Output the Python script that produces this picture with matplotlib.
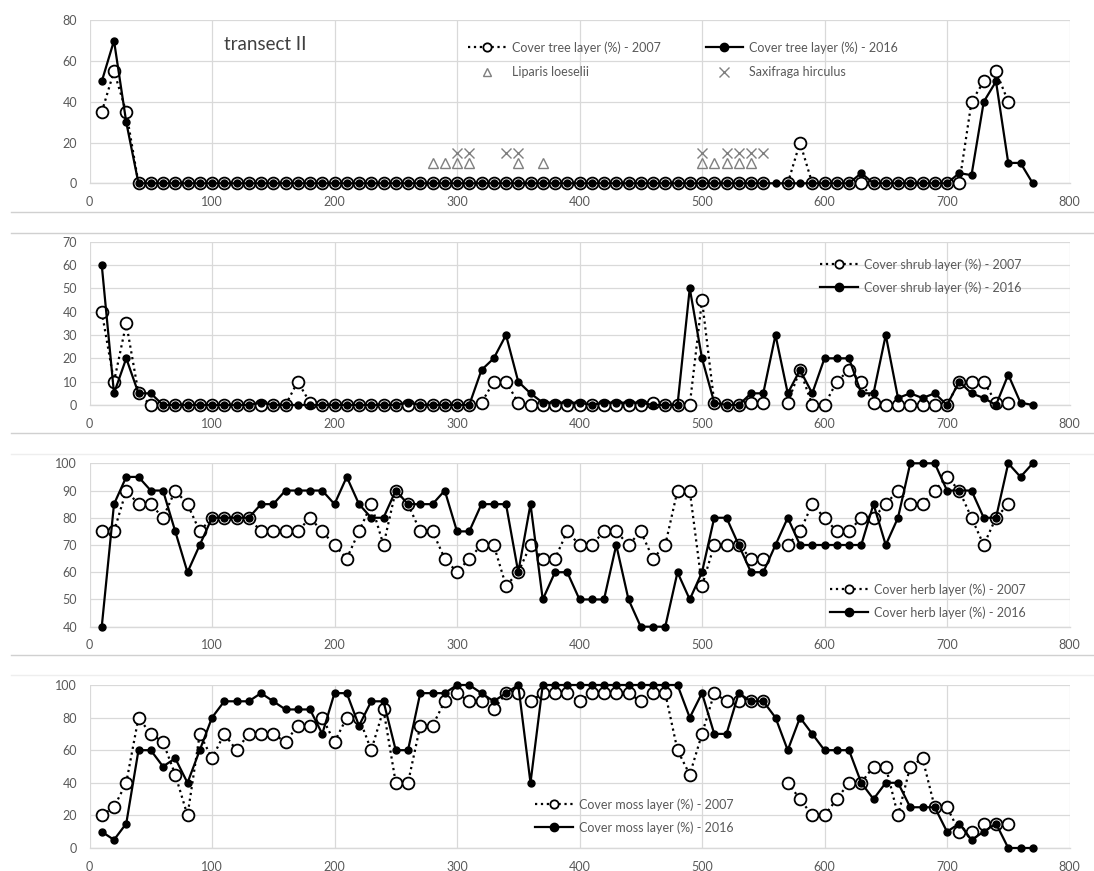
""" Vegetation cover along transect II, 2007 vs 2016
"""
import numpy as np
import matplotlib.pyplot as plt
from matplotlib.lines import Line2D

plt.rcParams['font.family'] = ['Lato', 'DejaVu Sans']

nan = np.nan

# distance along the transect [m]
dist_2016 = np.arange(10, 780, 10)
dist_2007 = np.arange(10, 760, 10)

tree_2007 = [35, 55, 35, 0, 0, 0, 0, 0, 0, 0,
             0, 0, 0, 0, 0, 0, 0, 0, 0, 0,
             0, 0, 0, 0, 0, 0, 0, 0, 0, 0,
             0, 0, 0, 0, 0, 0, 0, 0, 0, 0,
             0, 0, 0, 0, 0, 0, 0, 0, 0, 0,
             0, 0, 0, 0, 0, nan, 0, 20, 0, 0,
             0, 0, 0, 0, 0, 0, 0, 0, 0, 0,
             0, 40, 50, 55, 40]
tree_2016 = [50, 70, 30, 0, 0, 0, 0, 0, 0, 0,
             0, 0, 0, 0, 0, 0, 0, 0, 0, 0,
             0, 0, 0, 0, 0, 0, 0, 0, 0, 0,
             0, 0, 0, 0, 0, 0, 0, 0, 0, 0,
             0, 0, 0, 0, 0, 0, 0, 0, 0, 0,
             0, 0, 0, 0, 0, 0, 0, 0, 0, 0,
             0, 0, 5, 0, 0, 0, 0, 0, 0, 0,
             5, 4, 40, 50, 10, 10, 0]

shrub_2007 = [40, 10, 35, 5, 0, 0, 0, 0, 0, 0,
              0, 0, 0, 0, 0, 0, 10, 1, 0, 0,
              0, 0, 0, 0, 0, 0, 0, 0, 0, 0,
              0, 1, 10, 10, 1, 0, 0, 0, 0, 0,
              0, 0, 0, 0, 0, 1, 0, 0, 0, 45,
              1, 0, 0, 1, 1, nan, 1, 15, 0, 0,
              10, 15, 10, 1, 0, 0, 0, 0, 0, 0,
              10, 10, 10, 1, 1]
shrub_2016 = [60, 5, 20, 5, 5, 0, 0, 0, 0, 0,
              0, 0, 0, 1, 0, 0, 0, 0, 0, 0,
              0, 0, 0, 0, 0, 1, 0, 0, 0, 0,
              0, 15, 20, 30, 10, 5, 1, 1, 1, 1,
              0, 1, 1, 1, 1, 0, 0, 0, 50, 20,
              1, 0, 0, 5, 5, 30, 5, 15, 5, 20,
              20, 20, 5, 5, 30, 3, 5, 3, 5, 0,
              10, 5, 3, 0, 13, 1, 0]

herb_2007 = [75, 75, 90, 85, 85, 80, 90, 85, 75, 80,
             80, 80, 80, 75, 75, 75, 75, 80, 75, 70,
             65, 75, 85, 70, 90, 85, 75, 75, 65, 60,
             65, 70, 70, 55, 60, 70, 65, 65, 75, 70,
             70, 75, 75, 70, 75, 65, 70, 90, 90, 55,
             70, 70, 70, 65, 65, nan, 70, 75, 85, 80,
             75, 75, 80, 80, 85, 90, 85, 85, 90, 95,
             90, 80, 70, 80, 85]
herb_2016 = [40, 85, 95, 95, 90, 90, 75, 60, 70, 80,
             80, 80, 80, 85, 85, 90, 90, 90, 90, 85,
             95, 85, 80, 80, 90, 85, 85, 85, 90, 75,
             75, 85, 85, 85, 60, 85, 50, 60, 60, 50,
             50, 50, 70, 50, 40, 40, 40, 60, 50, 60,
             80, 80, 70, 60, 60, 70, 80, 70, 70, 70,
             70, 70, 70, 85, 70, 80, 100, 100, 100, 90,
             90, 90, 80, 80, 100, 95, 100]

moss_2007 = [20, 25, 40, 80, 70, 65, 45, 20, 70, 55,
             70, 60, 70, 70, 70, 65, 75, 75, 80, 65,
             80, 80, 60, 85, 40, 40, 75, 75, 90, 95,
             90, 90, 85, 95, 95, 90, 95, 95, 95, 90,
             95, 95, 95, 95, 90, 95, 95, 60, 45, 70,
             95, 90, 90, 90, 90, nan, 40, 30, 20, 20,
             30, 40, 40, 50, 50, 20, 50, 55, 25, 25,
             10, 10, 15, 15, 15]
moss_2016 = [10, 5, 15, 60, 60, 50, 55, 40, 60, 80,
             90, 90, 90, 95, 90, 85, 85, 85, 70, 95,
             95, 75, 90, 90, 60, 60, 95, 95, 95, 100,
             100, 95, 90, 95, 100, 40, 100, 100, 100, 100,
             100, 100, 100, 100, 100, 100, 100, 100, 80, 95,
             70, 70, 95, 90, 90, 80, 60, 80, 70, 60,
             60, 60, 40, 30, 40, 40, 25, 25, 25, 10,
             15, 5, 10, 15, 0, 0, 0]

# protected species records (plotted at fixed heights in the tree panel)
liparis_x = [280, 290, 300, 310, 350, 370, 500, 510, 520, 530, 540]
liparis_y = [10, 10, 10, 10, 10, 10, 10, 10, 10, 10, 10]
saxifraga_x = [300, 310, 340, 350, 500, 520, 530, 540, 550]
saxifraga_y = [15, 15, 15, 15, 15, 15, 15, 15, 15]

W, H = 1094, 871
GRID = '#d9d9d9'
TXT = '#595959'
SPECIES = '#7f7f7f'


def px_box(top, bottom, left=89.5, right=1069.5):
    return [left / W, 1 - bottom / H, (right - left) / W, (bottom - top) / H]


def style_axes(ax, ylim, ystep):
    ax.set_xlim(0, 800)
    ax.set_ylim(*ylim)
    ax.set_xticks(np.arange(0, 801, 100))
    ax.set_yticks(np.arange(ylim[0], ylim[1] + 1, ystep))
    ax.grid(True, color=GRID, lw=0.9)
    ax.set_axisbelow(True)
    for side in ['top', 'right', 'left']:
        ax.spines[side].set_visible(False)
    ax.spines['bottom'].set_color(GRID)
    ax.spines['bottom'].set_linewidth(1.0)
    ax.tick_params(axis='both', length=0, labelsize=9, labelcolor=TXT)
    ax.tick_params(axis='x', pad=9)
    ax.tick_params(axis='y', pad=9)


def plot_pair(ax, y07, y16):
    ax.plot(dist_2007, y07, color='black', ls=':', lw=1.6, clip_on=False,
            marker='o', ms=8.5, mfc='white', mec='black', mew=1.3, zorder=3)
    ax.plot(dist_2016, y16, color='black', ls='-', lw=1.6, clip_on=False,
            marker='o', ms=5.0, mfc='black', mec='black', zorder=4)


def legend_handles():
    h07 = Line2D([], [], color='black', ls=':', lw=1.6, marker='o', ms=6,
                 mfc='white', mec='black', mew=1.3)
    h16 = Line2D([], [], color='black', ls='-', lw=1.6, marker='o', ms=6,
                 mfc='black', mec='black')
    return h07, h16


def add_legend(ax, handles, labels, x, y, ncol=1, spacing=0.85):
    ax.legend(handles, labels, ncol=ncol, loc='upper left',
              bbox_to_anchor=(x / W, 1 - y / H), bbox_transform=fig.transFigure,
              frameon=False, borderaxespad=0, borderpad=0, handlelength=3.0,
              handletextpad=0.5, columnspacing=3.6, labelspacing=spacing,
              fontsize=9, labelcolor=TXT)


fig = plt.figure(figsize=(W / 100, H / 100), dpi=100)

ax_tree = fig.add_axes(px_box(20.3, 183.3))
ax_shrub = fig.add_axes(px_box(241.7, 405))
ax_herb = fig.add_axes(px_box(463.3, 626.7))
ax_moss = fig.add_axes(px_box(685, 848))

# tree layer
style_axes(ax_tree, (0, 80), 20)
plot_pair(ax_tree, tree_2007, tree_2016)
ax_tree.plot(liparis_x, liparis_y, ls='none', marker='^', ms=6.5,
             mfc='none', mec=SPECIES, mew=1.0, zorder=2)
ax_tree.plot(saxifraga_x, saxifraga_y, ls='none', marker='x', ms=7.5,
             color=SPECIES, mew=1.0, zorder=2)
ax_tree.text(110, 68, 'transect II', fontsize=13.5, color='#404040', va='center')
h07, h16 = legend_handles()
h_lip = Line2D([], [], ls='none', marker='^', ms=6, mfc='none', mec=SPECIES, mew=1.0)
h_sax = Line2D([], [], ls='none', marker='x', ms=7, color=SPECIES, mew=1.0)
add_legend(ax_tree, [h07, h_lip, h16, h_sax],
           ['Cover tree layer (%) - 2007', 'Liparis loeselii',
            'Cover tree layer (%) - 2016', 'Saxifraga hirculus'],
           468, 41, ncol=2, spacing=1.0)

# shrub layer
style_axes(ax_shrub, (0, 70), 10)
plot_pair(ax_shrub, shrub_2007, shrub_2016)
h07, h16 = legend_handles()
add_legend(ax_shrub, [h07, h16],
           ['Cover shrub layer (%) - 2007', 'Cover shrub layer (%) - 2016'],
           820, 258)

# herb layer
style_axes(ax_herb, (40, 100), 10)
plot_pair(ax_herb, herb_2007, herb_2016)
h07, h16 = legend_handles()
add_legend(ax_herb, [h07, h16],
           ['Cover herb layer (%) - 2007', 'Cover herb layer (%) - 2016'],
           830, 583)

# moss layer
style_axes(ax_moss, (0, 100), 20)
plot_pair(ax_moss, moss_2007, moss_2016)
h07, h16 = legend_handles()
add_legend(ax_moss, [h07, h16],
           ['Cover moss layer (%) - 2007', 'Cover moss layer (%) - 2016'],
           535, 798)

# chart borders between the panels
for y_px, col in [(212, '#d0d0d0'), (233, '#d0d0d0'), (433, '#d0d0d0'),
                  (454, '#eeeeee'), (655, '#d0d0d0'), (675, '#eeeeee')]:
    fig.add_artist(Line2D([11 / W, 1], [1 - y_px / H] * 2,
                          transform=fig.transFigure, color=col, lw=1.0))

fig.savefig('out.png', dpi=100, facecolor='white')
plt.close(fig)
